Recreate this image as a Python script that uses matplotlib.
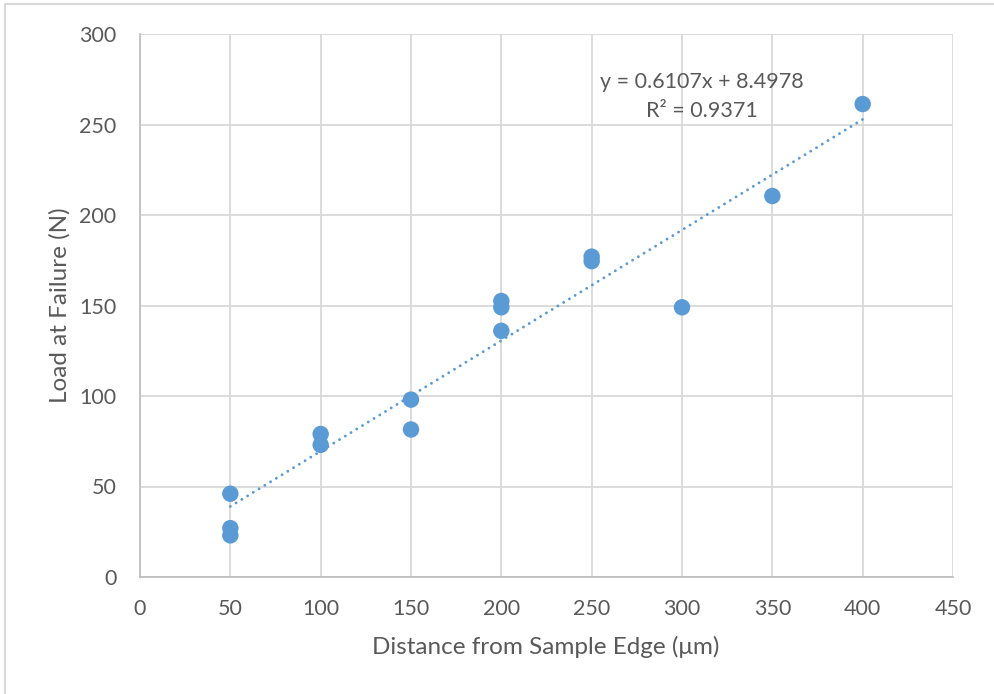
import matplotlib
matplotlib.use("Agg")
import matplotlib.pyplot as plt
from matplotlib.lines import Line2D
import numpy as np

distance_um = [50, 50, 50, 100, 100, 150, 150, 200, 200, 200, 250, 250, 300, 350, 400]
load_n = [46, 27, 23, 79, 73, 98, 81.5, 152.5, 149, 136, 177, 174.5, 149, 210.5, 261.3]

x_ticks = [0, 50, 100, 150, 200, 250, 300, 350, 400, 450]
y_ticks = [0, 50, 100, 150, 200, 250, 300]

eq_line = "y = 0.6107x + 8.4978"
r2_line = "R\u00b2 = 0.9371"

blue = "#5B9BD5"
grey_txt = "#595959"
grid_c = "#D9D9D9"

plt.rcParams["font.family"] = ["Lato", "DejaVu Sans"]

fig = plt.figure(figsize=(9.95, 6.94), dpi=100)
ax = fig.add_axes([140 / 995, 117 / 694, 813 / 995, 543 / 694])

# linear trendline over the data range
slope, icpt = np.polyfit(distance_um, load_n, 1)
xt = np.array([min(distance_um), max(distance_um)])
ax.plot(xt, slope * xt + icpt, color=blue, lw=2.1,
        linestyle=(0, (0.01, 2.3)), dash_capstyle="round", zorder=2)

ax.scatter(distance_um, load_n, s=140, color=blue, edgecolors="none", zorder=3)

ax.set_xlim(0, 450)
ax.set_ylim(0, 300)
ax.set_xticks(x_ticks)
ax.set_yticks(y_ticks)
ax.grid(True, color=grid_c, lw=1.3, zorder=0)
ax.set_axisbelow(True)
for side in ["top", "right"]:
    ax.spines[side].set_visible(False)
for side in ["left", "bottom"]:
    ax.spines[side].set_color("#BFBFBF")
    ax.spines[side].set_linewidth(1.3)
ax.tick_params(length=0, labelsize=15.5, labelcolor=grey_txt)
ax.tick_params(axis="y", pad=17)
ax.tick_params(axis="x", pad=16)

ax.set_xlabel("Distance from Sample Edge (\u03bcm)", fontsize=17.5, color=grey_txt)
ax.set_ylabel("Load at Failure (N)", fontsize=17.5, color=grey_txt)
ax.xaxis.set_label_coords(0.4994, -0.129)
ax.xaxis.label.set_va("center")
ax.yaxis.set_label_coords(-0.0984, 0.5)
ax.yaxis.label.set_va("center")

# trendline equation box
ax.text(311, 273.5, eq_line, ha="center", va="center", fontsize=15.5, color=grey_txt)
ax.text(311, 257.5, r2_line, ha="center", va="center", fontsize=15.5, color=grey_txt)

# outer chart frame (cropped at right and bottom in the reference)
fig.add_artist(Line2D([5 / 995, 5 / 995, 1.0], [0.0, 1 - 4 / 694, 1 - 4 / 694],
                      transform=fig.transFigure, color=grid_c, lw=1.5))

fig.savefig("out.png", dpi=100, facecolor="white")
